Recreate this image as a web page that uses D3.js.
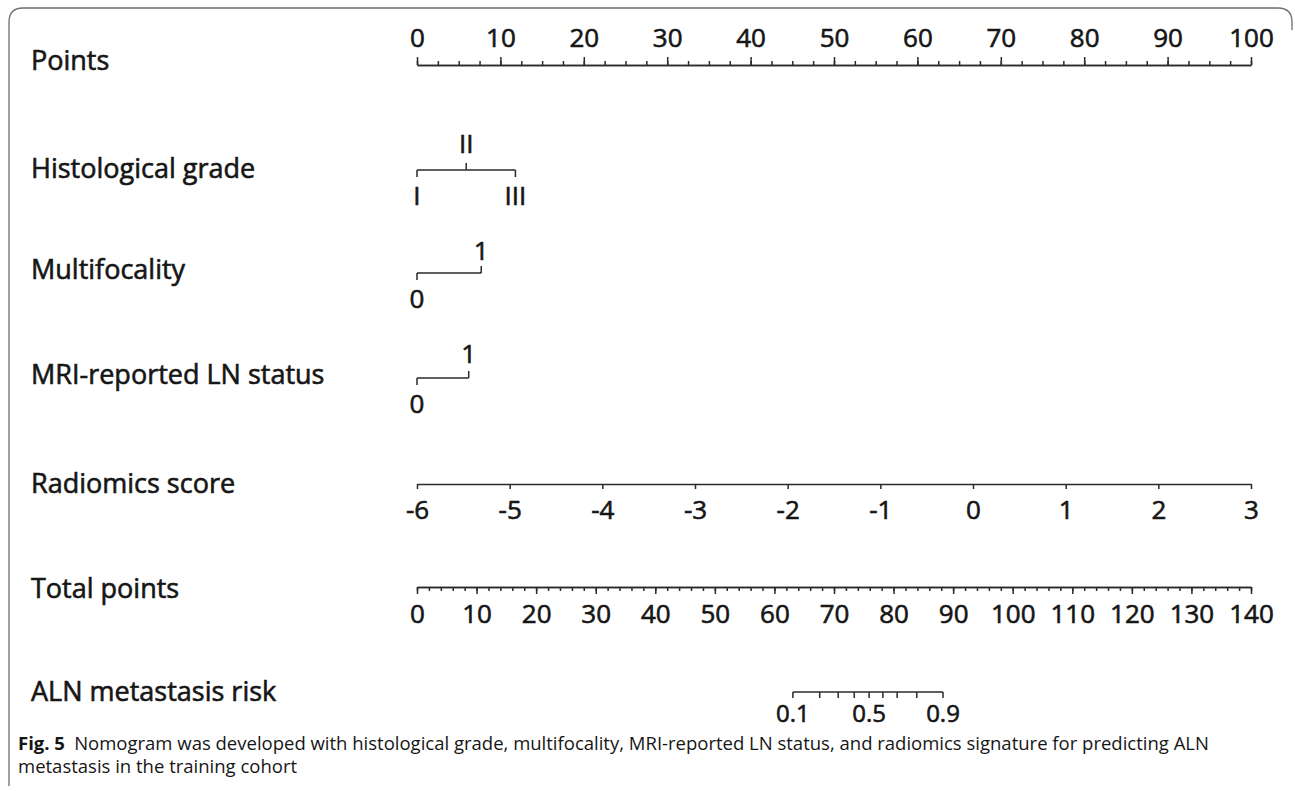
<!DOCTYPE html>
<html>
  <head>
    <meta charset="utf-8">
    <script type="text/javascript" src="https://cdn.jsdelivr.net/npm/d3@7"></script>
    <style>
      body { margin: 0; background: #fff; }
      text { font-family: "Open Sans", sans-serif; fill: #161616; }
      .heavy { stroke: #161616; stroke-width: 0.6px; }
    </style>
  </head>
<body>
  <script type="text/javascript">
    var width = 1295;
    var height = 791;

    // data
    var rowLabels = ["Points", "Histological grade", "Multifocality", "MRI-reported LN status",
                     "Radiomics score", "Total points", "ALN metastasis risk"];
    var gradeLevels = ["I", "II", "III"];
    var gradePoints = [0, 5.9, 11.8];
    var multifocalLevels = ["0", "1"];
    var multifocalPoints = [0, 7.7];
    var mriLevels = ["0", "1"];
    var mriPoints = [0, 6.2];
    var radiomicsTicks = [-6, -5, -4, -3, -2, -1, 0, 1, 2, 3];
    var riskValues = [0.1, 0.2, 0.3, 0.4, 0.5, 0.6, 0.7, 0.8, 0.9];
    var riskTotal = [63.1, 67.6, 70.7, 73.4, 75.9, 78.2, 80.6, 83.9, 88.3];
    var riskLabels = [0.1, 0.5, 0.9];

    var left = 417, right = 1251;
    var xPoints = d3.scaleLinear().domain([0, 100]).range([left, right]);
    var xTotal = d3.scaleLinear().domain([0, 140]).range([left, right]);
    var xRadio = d3.scaleLinear().domain([-6, 3]).range([left, right]);
    var xRisk = d3.scaleLinear().domain([0, 140]).range([left, right]);

    var svg = d3.select("body")
      .append("svg")
      .attr("width", width)
      .attr("height", height);

    // frame
    svg.append("path")
      .attr("d", "M9,786 L9,22 Q9,8 23,8 L1278,8 Q1292,8 1292,22 L1292,30")
      .attr("fill", "none")
      .attr("stroke", "#6e6e6e")
      .attr("stroke-width", 1.3);

    var labelY = [70, 178, 279, 384, 493, 598, 701];
    svg.selectAll("text.row")
      .data(rowLabels)
      .enter()
      .append("text")
      .attr("class", "row heavy")
      .attr("x", 31)
      .attr("y", function (d, i) { return labelY[i]; })
      .attr("font-size", 27)
      .text(function (d) { return d; });

    function styleAxis(g) {
      g.select(".domain").attr("stroke", "#2a2a2a").attr("stroke-width", 1.5);
      g.selectAll(".tick line").attr("stroke", "#2a2a2a").attr("stroke-width", 1.5);
      g.selectAll(".tick text").attr("class", "heavy").attr("fill", "#161616")
        .attr("font-family", "Open Sans").attr("font-size", 26);
    }

    // Points axis (ticks up)
    var gp = svg.append("g").attr("transform", "translate(0,65)");
    gp.call(d3.axisTop(xPoints).tickValues(d3.range(0, 100.1, 2.5)).tickSize(4).tickFormat("").tickSizeOuter(0));
    styleAxis(gp);
    var gp2 = svg.append("g").attr("transform", "translate(0,65)");
    gp2.call(d3.axisTop(xPoints).tickValues(d3.range(0, 101, 10)).tickSize(8).tickPadding(10).tickSizeOuter(0));
    styleAxis(gp2);

    // categorical rows
    function catRow(levels, pts, y, upIdx, aboveDy, belowDy) {
      var g = svg.append("g");
      g.append("line")
        .attr("x1", xPoints(d3.min(pts))).attr("x2", xPoints(d3.max(pts)))
        .attr("y1", y).attr("y2", y)
        .attr("stroke", "#2a2a2a").attr("stroke-width", 1.5);
      levels.forEach(function (lv, i) {
        var up = upIdx.indexOf(i) >= 0;
        g.append("line")
          .attr("x1", xPoints(pts[i])).attr("x2", xPoints(pts[i]))
          .attr("y1", y).attr("y2", up ? y - 7 : y + 7)
          .attr("stroke", "#2a2a2a").attr("stroke-width", 1.5);
        g.append("text")
          .attr("class", "heavy")
          .attr("x", xPoints(pts[i]))
          .attr("y", up ? y - aboveDy : y + belowDy)
          .attr("text-anchor", "middle")
          .attr("font-size", 26)
          .text(lv);
      });
    }
    catRow(gradeLevels, gradePoints, 170, [1], 17, 35);
    catRow(multifocalLevels, multifocalPoints, 273, [1], 13, 35);
    catRow(mriLevels, mriPoints, 378, [1], 15, 35);

    // Radiomics score
    var gr = svg.append("g").attr("transform", "translate(0,484)");
    gr.call(d3.axisBottom(xRadio).tickValues(radiomicsTicks).tickSize(5).tickPadding(12)
      .tickFormat(function (d) { return String(d); }).tickSizeOuter(0));
    styleAxis(gr);

    // Total points
    var gt = svg.append("g").attr("transform", "translate(0,587)");
    gt.call(d3.axisBottom(xTotal).tickValues(d3.range(0, 141, 2)).tickSize(4).tickFormat("").tickSizeOuter(0));
    styleAxis(gt);
    var gt2 = svg.append("g").attr("transform", "translate(0,587)");
    gt2.call(d3.axisBottom(xTotal).tickValues(d3.range(0, 141, 10)).tickSize(7).tickPadding(11).tickSizeOuter(0));
    styleAxis(gt2);

    // Risk
    var gk = svg.append("g");
    gk.append("line")
      .attr("x1", xRisk(riskTotal[0])).attr("x2", xRisk(riskTotal[riskTotal.length - 1]))
      .attr("y1", 692).attr("y2", 692)
      .attr("stroke", "#2a2a2a").attr("stroke-width", 1.5);
    gk.selectAll("line.rt")
      .data(riskValues)
      .enter()
      .append("line")
      .attr("class", "rt")
      .attr("x1", function (d, i) { return xRisk(riskTotal[i]); })
      .attr("x2", function (d, i) { return xRisk(riskTotal[i]); })
      .attr("y1", 692).attr("y2", 698)
      .attr("stroke", "#2a2a2a").attr("stroke-width", 1.5);
    gk.selectAll("text.rl")
      .data(riskLabels)
      .enter()
      .append("text")
      .attr("class", "rl heavy")
      .attr("x", function (d) { return xRisk(riskTotal[riskValues.indexOf(d)]); })
      .attr("y", 722)
      .attr("text-anchor", "middle")
      .attr("font-size", 24)
      .text(function (d) { return d3.format(".1f")(d); });

    // caption
    var cap = svg.append("text").attr("x", 18).attr("y", 750).attr("font-size", 18.5).attr("fill", "#222");
    cap.append("tspan").attr("font-weight", "bold").text("Fig. 5");
    cap.append("tspan").text("\u2002Nomogram was developed with histological grade, multifocality, MRI-reported LN status, and radiomics signature for predicting ALN");
    svg.append("text").attr("x", 18).attr("y", 773).attr("font-size", 18.5).attr("fill", "#222")
      .text("metastasis in the training cohort");
  </script>
</body>
</html>
